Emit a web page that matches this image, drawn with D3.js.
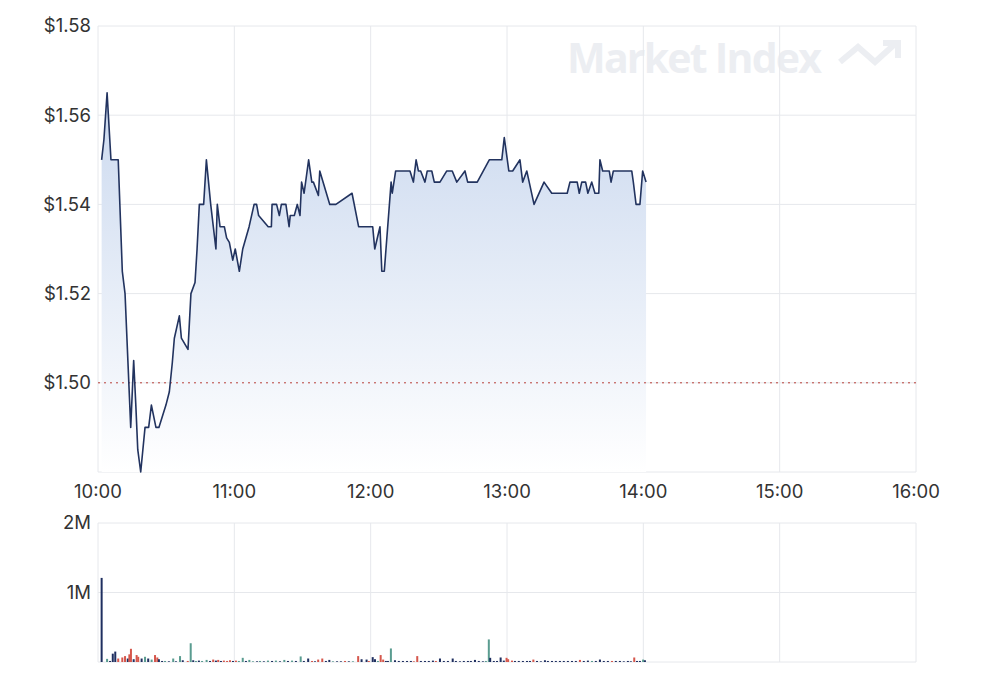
<!DOCTYPE html>
<html>
<head>
<meta charset="utf-8">
<script src="https://cdn.jsdelivr.net/npm/d3@7"></script>
<style>
body { margin: 0; background: #fff; font-family: Inter, "Liberation Sans", Arial, sans-serif; }
</style>
</head>
<body>
<script>
// minutes after the 10:00 open
priceMins = [1.6, 2.6, 4.0, 5.7, 8.9, 10.7, 11.9, 14.4, 15.7, 16.6, 17.5, 18.8, 20.7, 22.3, 23.5, 25.5, 26.8,
    29.9, 31.4, 32.7, 33.6, 35.8, 36.7, 39.6, 40.9, 42.7, 43.6, 44.6, 46.5, 47.7, 49.6, 51.9, 52.5, 53.7,
    55.6, 56.6, 57.8, 59.3, 60.4, 62.2, 63.7, 66.5, 68.7, 69.8, 70.7, 74.9, 76.3, 76.6, 78.6, 79.8, 80.7,
    82.7, 84.1, 84.6, 86.4, 87.7, 88.9, 89.6, 90.7, 92.7, 94.1, 94.8, 97.0, 97.6, 102.0, 104.7, 111.8,
    114.7, 120.9, 121.8, 124.1, 124.9, 126.0, 129.0, 129.5, 131.0, 137.3, 138.8, 140.0, 141.0, 142.0,
    143.9, 144.9, 146.9, 148.0, 150.5, 153.5, 155.9, 157.9, 161.5, 162.7, 166.9, 172.2, 177.7, 178.8,
    180.8, 182.5, 185.7, 186.9, 188.7, 191.9, 196.3, 199.7, 206.5, 207.7, 210.9, 211.8, 212.9, 214.6,
    215.6, 217.3, 218.7, 220.4, 220.9, 222.1, 225.0, 225.8, 226.8, 234.9, 235.6, 236.8, 238.5, 239.7, 241.2]

prices = [1.55, 1.5545, 1.565, 1.55, 1.55, 1.525, 1.52, 1.49, 1.505, 1.4955, 1.485, 1.48, 1.49, 1.49, 1.495, 1.49, 1.49,
    1.495, 1.498, 1.5045, 1.51, 1.515, 1.51, 1.5075, 1.52, 1.5225, 1.53, 1.54, 1.54, 1.55, 1.54, 1.53, 1.54, 1.535,
    1.535, 1.5325, 1.5315, 1.5275, 1.53, 1.525, 1.53, 1.535, 1.54, 1.54, 1.5375, 1.535, 1.535, 1.54, 1.54, 1.5375, 1.54,
    1.54, 1.535, 1.5375, 1.5375, 1.54, 1.5375, 1.545, 1.5425, 1.55, 1.545, 1.545, 1.542, 1.5475, 1.54, 1.54, 1.5425,
    1.535, 1.535, 1.53, 1.535, 1.525, 1.525, 1.545, 1.5425, 1.5475, 1.5475, 1.545, 1.55, 1.5475, 1.5475,
    1.545, 1.5475, 1.5475, 1.545, 1.545, 1.5475, 1.5475, 1.545, 1.5475, 1.545, 1.545, 1.55, 1.55, 1.555,
    1.5475, 1.5475, 1.55, 1.545, 1.5475, 1.54, 1.545, 1.5425, 1.5425, 1.545, 1.545, 1.5425, 1.545, 1.545,
    1.5425, 1.545, 1.5425, 1.5425, 1.55, 1.5475, 1.5475, 1.545, 1.5475, 1.5475, 1.545, 1.54, 1.54, 1.5475, 1.545]

prevClose = 1.50

volMins = [1.6, 4.0, 5.3, 6.5, 7.6, 8.9, 10.7, 11.9, 13.1, 13.8, 14.5, 15.7, 17.0, 17.7, 19.2, 20.7, 22.1, 23.6,
    25.1, 26.1, 26.8, 28.2, 29.5, 31.2, 33.1, 34.3, 36.1, 37.3, 39.5, 40.8, 41.9, 43.1, 44.4, 45.8, 47.8, 49.3,
    50.7, 51.9, 52.9, 54.1, 55.4, 56.8, 58.1, 59.4, 60.7, 62.0, 63.7, 65.1, 66.6, 68.2, 70.0, 71.3, 73.0, 74.8,
    76.6, 78.3, 80.1, 82.0, 83.6, 85.4, 87.1, 89.2, 90.6, 92.5, 94.2, 95.5, 96.9, 98.7, 100.3, 101.8, 103.4,
    105.2, 106.9, 108.7, 110.4, 112.2, 114.5, 116.0, 118.2, 119.2, 120.9, 121.9, 123.2, 124.4, 125.5, 126.7,
    127.6, 128.9, 130.7, 132.4, 134.2, 136.0, 137.7, 139.0, 140.5, 142.1, 143.9, 145.6, 147.4, 148.7, 150.5,
    152.2, 154.0, 156.1, 157.5, 159.3, 161.0, 162.8, 164.1, 165.9, 167.6, 169.4, 170.7, 172.0, 172.6, 174.2,
    175.6, 177.2, 178.6, 179.8, 180.5, 182.2, 183.5, 185.2, 187.0, 188.8, 190.1, 191.6, 193.2, 194.9, 196.7,
    198.0, 199.8, 201.5, 203.3, 205.0, 206.8, 208.6, 210.3, 212.1, 213.8, 215.6, 217.4, 219.1, 220.9, 222.6,
    224.4, 226.2, 227.9, 229.7, 231.4, 233.2, 234.5, 236.0, 237.2, 238.5, 239.9, 240.7]

volumes = [1210000, 45000, 15000, 120000, 150000, 50000, 65000, 85000, 50000, 110000, 190000, 40000, 100000, 75000,
    50000, 75000, 50000, 35000, 100000, 65000, 40000, 15000, 15000, 10000, 50000, 10000, 85000, 25000, 15000,
    270000, 25000, 15000, 20000, 15000, 30000, 15000, 35000, 20000, 30000, 15000, 20000, 15000, 25000, 15000,
    20000, 15000, 60000, 15000, 30000, 10000, 10000, 15000, 10000, 20000, 15000, 20000, 10000, 30000, 15000,
    20000, 15000, 80000, 15000, 50000, 15000, 10000, 35000, 50000, 15000, 30000, 10000, 10000, 10000, 15000,
    10000, 10000, 85000, 40000, 35000, 15000, 70000, 40000, 15000, 100000, 35000, 15000, 15000, 195000, 25000,
    15000, 15000, 15000, 15000, 10000, 85000, 15000, 15000, 15000, 20000, 15000, 50000, 15000, 15000, 50000,
    15000, 10000, 15000, 15000, 15000, 30000, 15000, 10000, 15000, 325000, 60000, 15000, 15000, 65000, 20000,
    60000, 40000, 20000, 15000, 15000, 15000, 15000, 15000, 35000, 15000, 10000, 25000, 15000, 15000, 15000,
    15000, 15000, 15000, 15000, 15000, 30000, 15000, 20000, 15000, 15000, 35000, 15000, 15000, 15000, 15000,
    15000, 10000, 15000, 10000, 65000, 15000, 15000, 35000, 25000]

// trade direction of each volume bar: n = unchanged, d = down, u = up
volDirs = ['n', 'u', 'n', 'n', 'n', 'd', 'd', 'd', 'n', 'd', 'd', 'n', 'd', 'd', 'n', 'u', 'n', 'u',
    'd', 'd', 'n', 'n', 'u', 'n', 'u', 'n', 'u', 'n', 'd', 'u', 'n', 'u', 'n', 'u', 'u', 'n',
    'd', 'n', 'd', 'n', 'd', 'd', 'd', 'n', 'd', 'u', 'u', 'n', 'u', 'u', 'n', 'u', 'n', 'u',
    'n', 'u', 'n', 'u', 'n', 'u', 'n', 'u', 'n', 'n', 'd', 'n', 'd', 'd', 'n', 'n', 'u',
    'n', 'n', 'd', 'n', 'u', 'd', 'n', 'n', 'd', 'n', 'n', 'u', 'd', 'd', 'n',
    'n', 'u', 'n', 'n', 'n', 'n', 'n', 'd', 'd', 'n', 'n', 'n', 'n', 'd', 'n',
    'n', 'n', 'n', 'n', 'n', 'n', 'n', 'n', 'n', 'n', 'n', 'u', 'u', 'n', 'n',
    'n', 'n', 'n', 'd', 'd', 'd', 'n', 'n', 'n', 'n', 'n', 'd', 'n', 'n', 'n',
    'n', 'n', 'n', 'n', 'n', 'n', 'n', 'n', 'd', 'n', 'n', 'u', 'n', 'n', 'n',
    'n', 'd', 'n', 'n', 'n', 'n', 'n', 'd', 'n', 'n', 'u', 'n']

priceTicks = [1.50, 1.52, 1.54, 1.56, 1.58]
volTicks = [1000000, 2000000]
hourTicks = ['10:00', '11:00', '12:00', '13:00', '14:00', '15:00', '16:00']

width = 1000
height = 693
left = 98
right = 916
priceTop = 26
priceBottom = 472
volTop = 523
volBottom = 662

dirColor = { n: '#1f2f60', d: '#d5574c', u: '#5a9c90' }
gridColor = '#e6e8ec'
textColor = '#333'
labelSize = '18.5px'

parseHour = d3.timeParse('%H:%M')
open = parseHour('10:00')
toTime = m => new Date(open.getTime() + m * 60000)

svg = d3.select('body')
    .append('svg')
    .attr('width', width)
    .attr('height', height)

x = d3.scaleTime()
    .domain([parseHour('10:00'), parseHour('16:00')])
    .range([left, right])

y = d3.scaleLinear()
    .domain([1.48, 1.58])
    .range([priceBottom, priceTop])

yVol = d3.scaleLinear()
    .domain([0, 2000000])
    .range([volBottom, volTop])

priceData = priceMins.map((m, i) => ({ t: toTime(m), p: prices[i] }))
volData = volMins.map((m, i) => ({ t: toTime(m), v: volumes[i], dir: volDirs[i] }))

// watermark
wm = svg.append('g').attr('fill', '#eceef2')
wm.append('text')
    .text('Market Index')
    .attr('x', 567)
    .attr('y', 73)
    .attr('textLength', 255)
    .style('font-family', '"Open Sans", "Liberation Sans", sans-serif')
    .style('font-weight', 700)
    .style('font-size', '41px')
wm.append('path')
    .attr('d', 'M840,62 L858,47 L875,62 L896,43 M883,43 L898,43 L898,58')
    .attr('fill', 'none')
    .attr('stroke', '#eceef2')
    .attr('stroke-width', 6)

// gridlines - price panel
gPrice = svg.append('g')
gPrice.append('g')
    .selectAll('line')
    .data(hourTicks)
    .enter()
    .append('line')
    .attr('x1', d => x(parseHour(d)))
    .attr('x2', d => x(parseHour(d)))
    .attr('y1', priceTop)
    .attr('y2', priceBottom)
    .attr('stroke', gridColor)
gPrice.append('g')
    .selectAll('line')
    .data(priceTicks.concat([1.48]))
    .enter()
    .append('line')
    .attr('x1', left)
    .attr('x2', right)
    .attr('y1', d => y(d))
    .attr('y2', d => y(d))
    .attr('stroke', gridColor)

// area gradient
defs = svg.append('defs')
grad = defs.append('linearGradient')
    .attr('id', 'areaFill')
    .attr('gradientUnits', 'userSpaceOnUse')
    .attr('x1', 0).attr('x2', 0)
    .attr('y1', y(d3.max(prices)))
    .attr('y2', priceBottom)
grad.append('stop').attr('offset', 0).attr('stop-color', '#cbd9ef')
grad.append('stop').attr('offset', 1).attr('stop-color', '#ffffff')

area = d3.area()
    .x(d => x(d.t))
    .y0(priceBottom)
    .y1(d => y(d.p))

line = d3.line()
    .x(d => x(d.t))
    .y(d => y(d.p))

gPrice.append('path')
    .datum(priceData)
    .attr('d', area)
    .attr('fill', 'url(#areaFill)')

// previous close
gPrice.append('line')
    .attr('x1', left)
    .attr('x2', right)
    .attr('y1', y(prevClose))
    .attr('y2', y(prevClose))
    .attr('stroke', '#b8413a')
    .attr('stroke-dasharray', '2,4')

gPrice.append('path')
    .datum(priceData)
    .attr('d', line)
    .attr('fill', 'none')
    .attr('stroke', '#22335f')
    .attr('stroke-width', 1.6)
    .attr('stroke-linejoin', 'round')

// y axis labels
gPrice.append('g')
    .selectAll('text')
    .data(priceTicks)
    .enter()
    .append('text')
    .text(d => '$' + d.toFixed(2))
    .attr('x', 91)
    .attr('y', d => y(d))
    .attr('dy', '0.35em')
    .attr('text-anchor', 'end')
    .attr('fill', textColor)
    .style('font-size', labelSize)

// x axis labels
gPrice.append('g')
    .selectAll('text')
    .data(hourTicks)
    .enter()
    .append('text')
    .text(d => d)
    .attr('x', d => x(parseHour(d)))
    .attr('y', 498)
    .attr('text-anchor', 'middle')
    .attr('fill', textColor)
    .style('font-size', labelSize)

// volume panel
gVol = svg.append('g')
gVol.append('g')
    .selectAll('line')
    .data(hourTicks)
    .enter()
    .append('line')
    .attr('x1', d => x(parseHour(d)))
    .attr('x2', d => x(parseHour(d)))
    .attr('y1', volTop)
    .attr('y2', volBottom)
    .attr('stroke', gridColor)
gVol.append('g')
    .selectAll('line')
    .data([0].concat(volTicks))
    .enter()
    .append('line')
    .attr('x1', left)
    .attr('x2', right)
    .attr('y1', d => yVol(d))
    .attr('y2', d => yVol(d))
    .attr('stroke', gridColor)

gVol.append('g')
    .selectAll('rect')
    .data(volData)
    .enter()
    .append('rect')
    .attr('x', d => x(d.t) - 1)
    .attr('width', 2)
    .attr('y', d => yVol(d.v))
    .attr('height', d => volBottom - yVol(d.v))
    .attr('fill', d => dirColor[d.dir])

gVol.append('g')
    .selectAll('text')
    .data(volTicks)
    .enter()
    .append('text')
    .text(d => (d / 1000000) + 'M')
    .attr('x', 91)
    .attr('y', d => yVol(d))
    .attr('dy', '0.35em')
    .attr('text-anchor', 'end')
    .attr('fill', textColor)
    .style('font-size', labelSize)
</script>
</body>
</html>
